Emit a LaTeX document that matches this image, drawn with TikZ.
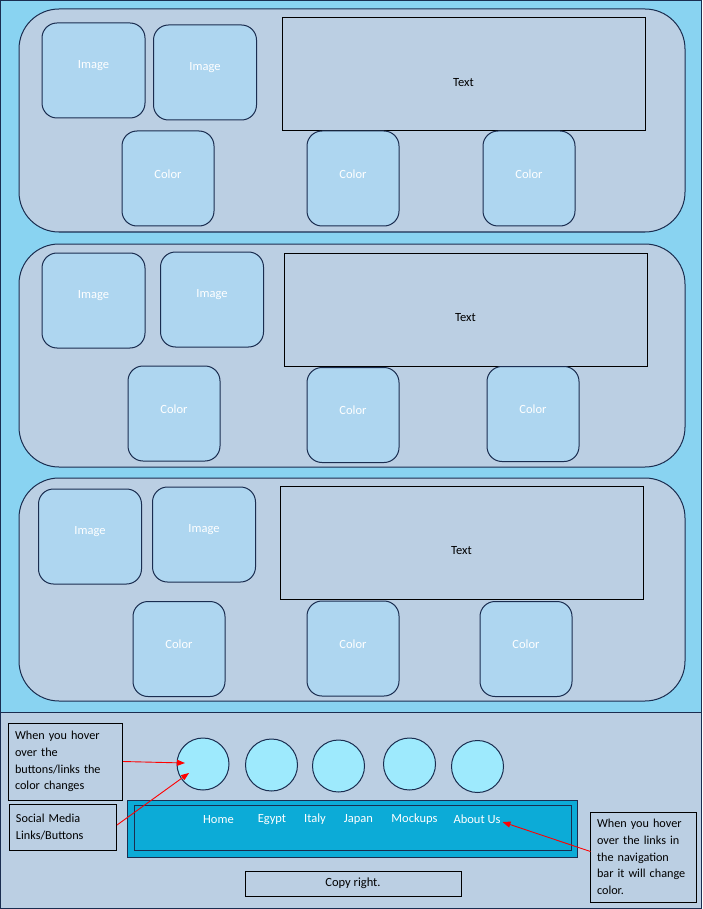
\documentclass[tikz,border=0pt]{standalone}
\usepackage{fontspec}
\setmainfont{Carlito}
\usetikzlibrary{arrows.meta}
\definecolor{bgtop}{RGB}{137,211,241}
\definecolor{panelc}{RGB}{187,207,227}
\definecolor{boxfill}{RGB}{174,214,240}
\definecolor{circc}{RGB}{158,234,253}
\definecolor{navc}{RGB}{12,171,215}
\definecolor{navy}{RGB}{26,45,80}
\begin{document}
\begin{tikzpicture}[x=1pt,y=-1pt,line width=1pt,
  every node/.style={font=\fontsize{12.5}{16.7}\selectfont},
  panelbox/.style={draw=navy,fill=panelc,rounded corners=40pt,minimum width=666pt,minimum height=223pt,inner sep=0pt},
  imgbox/.style={draw=navy,fill=boxfill,rounded corners=15pt,minimum width=103pt,minimum height=95pt,inner sep=0pt},
  colbox/.style={imgbox,minimum width=92pt},
  whitelbl/.style={text=white,font=\fontsize{12.5}{15}\selectfont},
  textbox/.style={draw=black,fill=panelc,minimum width=363pt,minimum height=113pt,inner sep=0pt},
  circbtn/.style={circle,draw=navy,fill=circc,minimum size=52pt,inner sep=0pt},
  notebox/.style={draw=black,align=left,inner xsep=7pt,inner ysep=0pt,anchor=center,font=\fontsize{12.2}{16.7}\selectfont},
  navitem/.style={text=white,inner sep=0pt},
  redarrow/.style={draw=red,line width=0.9pt,-{Triangle[length=8pt,width=6pt]}}
]
\useasboundingbox (0,0) rectangle (702,909);
% backgrounds
\draw[navy,fill=bgtop] (0.5,0.5) rectangle (701.5,712);
\draw[navy,fill=panelc] (0.5,712) rectangle (701.5,908.5);

% panel 1
\node[panelbox] (p1) at (352,120.5) {};
\node[imgbox,label={[whitelbl,yshift=5pt]center:Image}] (i11) at (93.5,70.5) {};
\node[imgbox,label={[whitelbl,yshift=4.5pt]center:Image}] (i12) at (205,72.5) {};
\node[textbox,label={[yshift=-8.5pt]center:Text}] (t1) at (463.5,74.5) {};
\node[colbox,label={[whitelbl,yshift=4.5pt]center:Color}] (c11) at (168,178.5) {};
\node[colbox,label={[whitelbl,yshift=4.5pt]center:Color}] (c12) at (353,178.5) {};
\node[colbox,label={[whitelbl,yshift=4.5pt]center:Color}] (c13) at (529,178.5) {};

% panel 2
\node[panelbox] (p2) at (352,355.5) {};
\node[imgbox,label={[whitelbl,yshift=4.5pt]center:Image}] (i21) at (93.5,300.5) {};
\node[imgbox,label={[whitelbl,yshift=4.5pt]center:Image}] (i22) at (212,299.5) {};
\node[textbox,label={[yshift=-8.5pt]center:Text}] (t2) at (465.5,309.5) {};
\node[colbox,label={[whitelbl,yshift=4.5pt]center:Color}] (c21) at (174,413.5) {};
\node[colbox,label={[whitelbl,yshift=4.5pt]center:Color}] (c22) at (353,415) {};
\node[colbox,label={[whitelbl,yshift=4.5pt]center:Color}] (c23) at (533,414) {};

% panel 3
\node[panelbox] (p3) at (352,589.5) {};
\node[imgbox,label={[whitelbl,yshift=4.5pt]center:Image}] (i31) at (90,536.5) {};
\node[imgbox,label={[whitelbl,yshift=4.5pt]center:Image}] (i32) at (204,534.5) {};
\node[textbox,label={[yshift=-8.5pt]center:Text}] (t3) at (461.5,542.5) {};
\node[colbox,label={[whitelbl,yshift=4.5pt]center:Color}] (c31) at (179,649) {};
\node[colbox,label={[whitelbl,yshift=4.5pt]center:Color}] (c32) at (353,648.5) {};
\node[colbox,label={[whitelbl,yshift=4.5pt]center:Color}] (c33) at (526,649) {};

% social buttons
\node[circbtn] (b1) at (203,764) {};
\node[circbtn] (b2) at (271.5,765) {};
\node[circbtn] (b3) at (338.5,766) {};
\node[circbtn] (b4) at (409.5,764) {};
\node[circbtn] (b5) at (477.5,766.5) {};

% navigation bar
\node[draw=navy,fill=navc,minimum width=450pt,minimum height=57pt,inner sep=0pt] (navout) at (352,828.5) {};
\node[draw=navy,fill=navc,minimum width=437pt,minimum height=45pt,inner sep=0pt] (navin) at (352.5,827.5) {};
\node[navitem] (n1) at (218.5,819.5) {Home};
\node[navitem] (n2) at (272,819.5) {Egypt};
\node[navitem] (n3) at (315,819.5) {Italy};
\node[navitem] (n4) at (358.5,819.5) {Japan};
\node[navitem] (n5) at (414.5,819.5) {Mockups};
\node[navitem] (n6) at (477,819.5) {About Us};

% copyright
\node[draw=black,fill=panelc,minimum width=216pt,minimum height=25pt,inner sep=0pt] (copy) at (353,883.5) {Copy right.};

% notes
\node[notebox,text width=100.5pt,minimum height=77pt] (note1) at (65.25,761.5) {When you hover\\over the\\buttons/links the\\color changes};
\node[notebox,text width=93.5pt,minimum height=46pt] (note2) at (62.75,827) {Social Media\\Links/Buttons};
\node[notebox,text width=92.5pt,minimum height=90pt] (note3) at (643.25,857) {When you hover\\over the links in\\the navigation\\bar it will change\\color.};

% arrows
\coordinate (e1) at (185,763);
\coordinate (s2) at (117,825);
\coordinate (e2) at (189,773);
\coordinate (s3) at (590.5,851.5);
\coordinate (e3) at (502.5,822);
\draw[redarrow] (note1.east) -- (e1);
\draw[redarrow] (s2) -- (e2);
\draw[redarrow] (s3) -- (e3);
\end{tikzpicture}
\end{document}
